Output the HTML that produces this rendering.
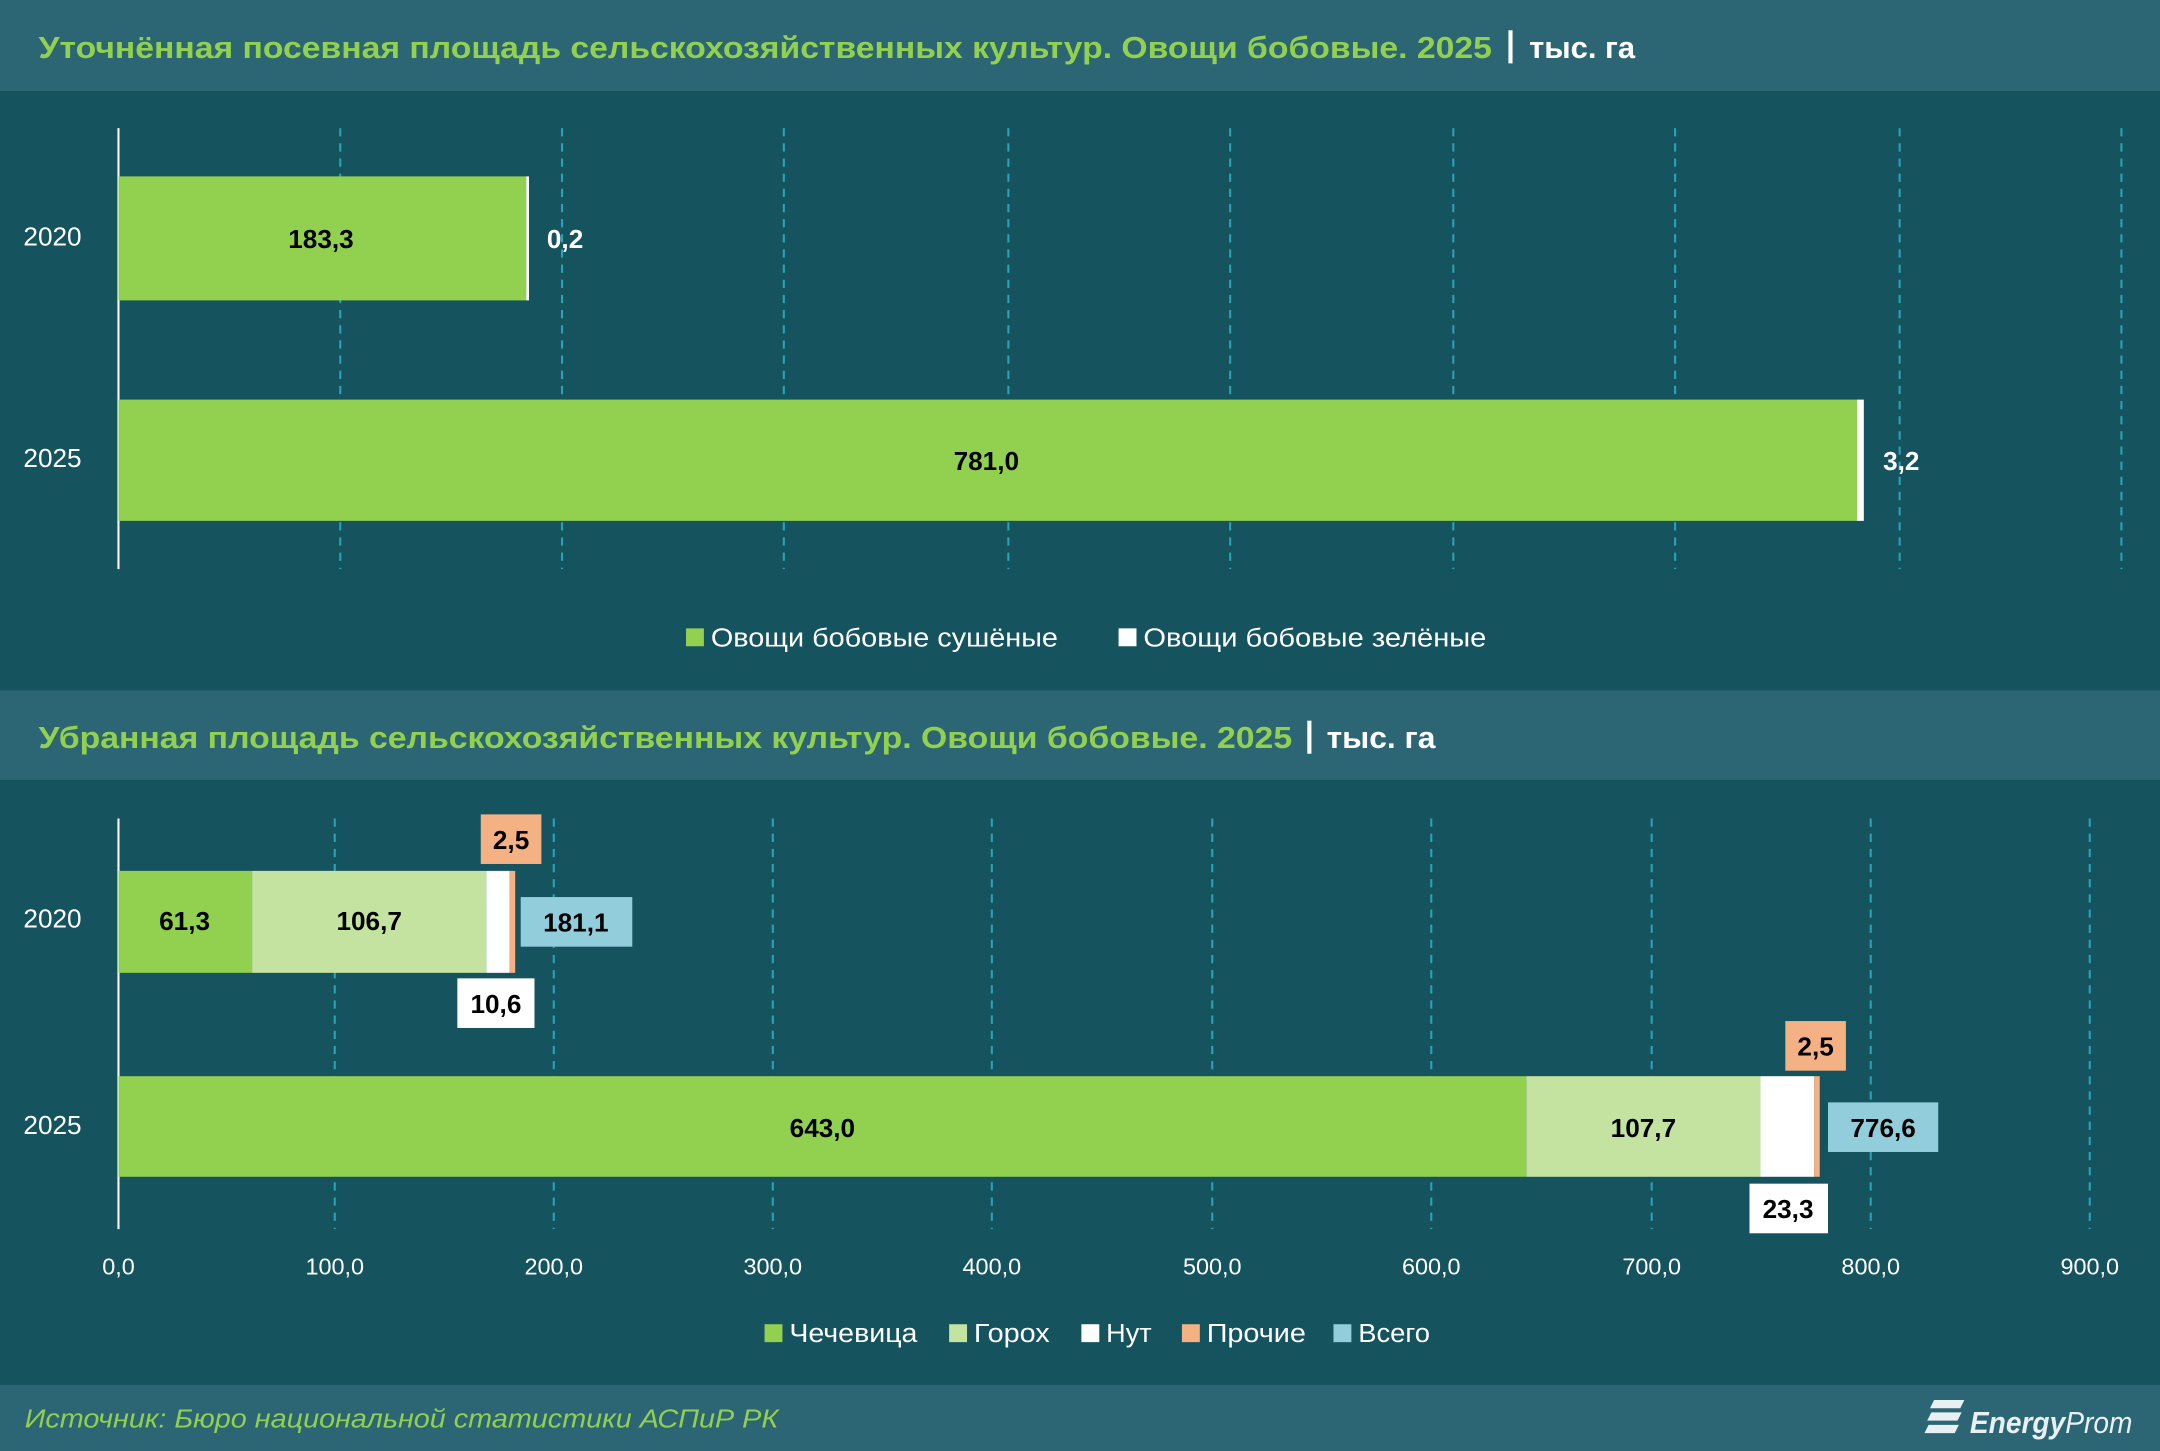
<!DOCTYPE html>
<html><head><meta charset="utf-8"><style>html,body{margin:0;padding:0;background:#15535f}svg{display:block}</style></head><body>
<svg width="2160" height="1451" viewBox="0 0 1568 1053" preserveAspectRatio="none" xmlns="http://www.w3.org/2000/svg" font-family="'Liberation Sans', sans-serif">
<rect width="1568" height="1053" fill="#15535f"/>
<rect x="0" y="0" width="1568" height="66" fill="#2c6674"/>
<rect x="0" y="501" width="1568" height="65" fill="#2c6674"/>
<rect x="0" y="1005" width="1568" height="48" fill="#2c6674"/>
<text x="28" y="42" font-size="22" font-weight="bold" fill="#92d050" textLength="1055" lengthAdjust="spacingAndGlyphs">Уточнённая посевная площадь сельскохозяйственных культур. Овощи бобовые. 2025</text>
<rect x="1095" y="22" width="3" height="24" fill="#fff"/>
<text x="1110" y="42" font-size="22" font-weight="bold" fill="#fff" textLength="77" lengthAdjust="spacingAndGlyphs">тыс. га</text>
<text x="28" y="543" font-size="22" font-weight="bold" fill="#92d050" textLength="910" lengthAdjust="spacingAndGlyphs">Убранная площадь сельскохозяйственных культур. Овощи бобовые. 2025</text>
<rect x="949" y="523" width="3" height="24" fill="#fff"/>
<text x="963" y="543" font-size="22" font-weight="bold" fill="#fff" textLength="79" lengthAdjust="spacingAndGlyphs">тыс. га</text>
<g stroke="#2aa3b8" stroke-width="1.5" stroke-dasharray="6,5">
<line x1="247" y1="93" x2="247" y2="413"/><line x1="408" y1="93" x2="408" y2="413"/><line x1="569" y1="93" x2="569" y2="413"/><line x1="732" y1="93" x2="732" y2="413"/><line x1="893" y1="93" x2="893" y2="413"/><line x1="1055" y1="93" x2="1055" y2="413"/><line x1="1216" y1="93" x2="1216" y2="413"/><line x1="1379" y1="93" x2="1379" y2="413"/><line x1="1540" y1="93" x2="1540" y2="413"/>
<line x1="243" y1="594" x2="243" y2="892"/><line x1="402" y1="594" x2="402" y2="892"/><line x1="561" y1="594" x2="561" y2="892"/><line x1="720" y1="594" x2="720" y2="892"/><line x1="880" y1="594" x2="880" y2="892"/><line x1="1039" y1="594" x2="1039" y2="892"/><line x1="1199" y1="594" x2="1199" y2="892"/><line x1="1358" y1="594" x2="1358" y2="892"/><line x1="1517" y1="594" x2="1517" y2="892"/>
</g>
<line x1="86" y1="93" x2="86" y2="413" stroke="#fff" stroke-width="1.5"/>
<line x1="86" y1="594" x2="86" y2="892" stroke="#fff" stroke-width="1.5"/>
<g font-size="19" fill="#fff"><text x="17" y="178">2020</text><text x="17" y="339">2025</text><text x="17" y="673">2020</text><text x="17" y="823">2025</text></g>
<rect x="86" y="128" width="296" height="90" fill="#92d050"/><rect x="382" y="128" width="2" height="90" fill="#fff"/>
<rect x="86" y="290" width="1262" height="88" fill="#92d050"/><rect x="1348" y="290" width="5" height="88" fill="#fff"/>
<g font-size="19" font-weight="bold" fill="#000" text-anchor="middle"><text x="233" y="180">183,3</text><text x="716" y="341">781,0</text></g>
<g font-size="19" font-weight="bold" fill="#fff"><text x="397" y="180">0,2</text><text x="1367" y="341">3,2</text></g>
<rect x="498" y="456" width="13" height="13" fill="#92d050"/><text x="516" y="469" font-size="19" fill="#fff" textLength="252" lengthAdjust="spacingAndGlyphs">Овощи бобовые сушёные</text>
<rect x="812" y="456" width="13" height="13" fill="#fff"/><text x="830" y="469" font-size="19" fill="#fff" textLength="249" lengthAdjust="spacingAndGlyphs">Овощи бобовые зелёные</text>
<rect x="86" y="632" width="97" height="74" fill="#92d050"/><rect x="183" y="632" width="170" height="74" fill="#c5e3a0"/><rect x="353" y="632" width="17" height="74" fill="#fff"/><rect x="370" y="632" width="4" height="74" fill="#f4b183"/>
<rect x="86" y="781" width="1022" height="73" fill="#92d050"/><rect x="1108" y="781" width="170" height="73" fill="#c5e3a0"/><rect x="1278" y="781" width="39" height="73" fill="#fff"/><rect x="1317" y="781" width="4" height="73" fill="#f4b183"/>
<rect x="349" y="591" width="44" height="36" fill="#f4b183"/><rect x="378" y="651" width="81" height="36" fill="#92cddc"/><rect x="332" y="710" width="56" height="36" fill="#fff"/>
<rect x="1296" y="741" width="44" height="36" fill="#f4b183"/><rect x="1327" y="800" width="80" height="36" fill="#92cddc"/><rect x="1270" y="859" width="57" height="36" fill="#fff"/>
<g font-size="19" font-weight="bold" fill="#000" text-anchor="middle">
<text x="134" y="675">61,3</text><text x="268" y="675">106,7</text><text x="371" y="616">2,5</text><text x="418" y="676">181,1</text><text x="360" y="735">10,6</text>
<text x="597" y="825">643,0</text><text x="1193" y="825">107,7</text><text x="1318" y="766">2,5</text><text x="1367" y="825">776,6</text><text x="1298" y="884">23,3</text></g>
<g font-size="17" fill="#fff" text-anchor="middle"><text x="86" y="925">0,0</text><text x="243" y="925">100,0</text><text x="402" y="925">200,0</text><text x="561" y="925">300,0</text><text x="720" y="925">400,0</text><text x="880" y="925">500,0</text><text x="1039" y="925">600,0</text><text x="1199" y="925">700,0</text><text x="1358" y="925">800,0</text><text x="1517" y="925">900,0</text></g>
<g font-size="19" fill="#fff">
<rect x="555" y="961" width="13" height="13" fill="#92d050"/><text x="573" y="974" textLength="93" lengthAdjust="spacingAndGlyphs">Чечевица</text>
<rect x="689" y="961" width="13" height="13" fill="#c5e3a0"/><text x="707" y="974" textLength="55" lengthAdjust="spacingAndGlyphs">Горох</text>
<rect x="785" y="961" width="13" height="13" fill="#fff"/><text x="803" y="974" textLength="33" lengthAdjust="spacingAndGlyphs">Нут</text>
<rect x="858" y="961" width="13" height="13" fill="#f4b183"/><text x="876" y="974" textLength="72" lengthAdjust="spacingAndGlyphs">Прочие</text>
<rect x="968" y="961" width="13" height="13" fill="#92cddc"/><text x="986" y="974" textLength="52" lengthAdjust="spacingAndGlyphs">Всего</text></g>
<text x="18" y="1036" font-size="19" font-style="italic" fill="#92d050" textLength="547" lengthAdjust="spacingAndGlyphs">Источник: Бюро национальной статистики АСПиР РК</text>
<g fill="#e8f0f2"><path d="M1404 1016h22l-3 6h-22z M1402 1025h22l-3 6h-22z M1400 1034h22l-3 6h-22z"/></g>
<text x="1430" y="1040" font-size="22" font-style="italic" font-weight="bold" fill="#e8f0f2" textLength="118" lengthAdjust="spacingAndGlyphs">Energy<tspan font-weight="normal">Prom</tspan></text>
</svg>
</body></html>
